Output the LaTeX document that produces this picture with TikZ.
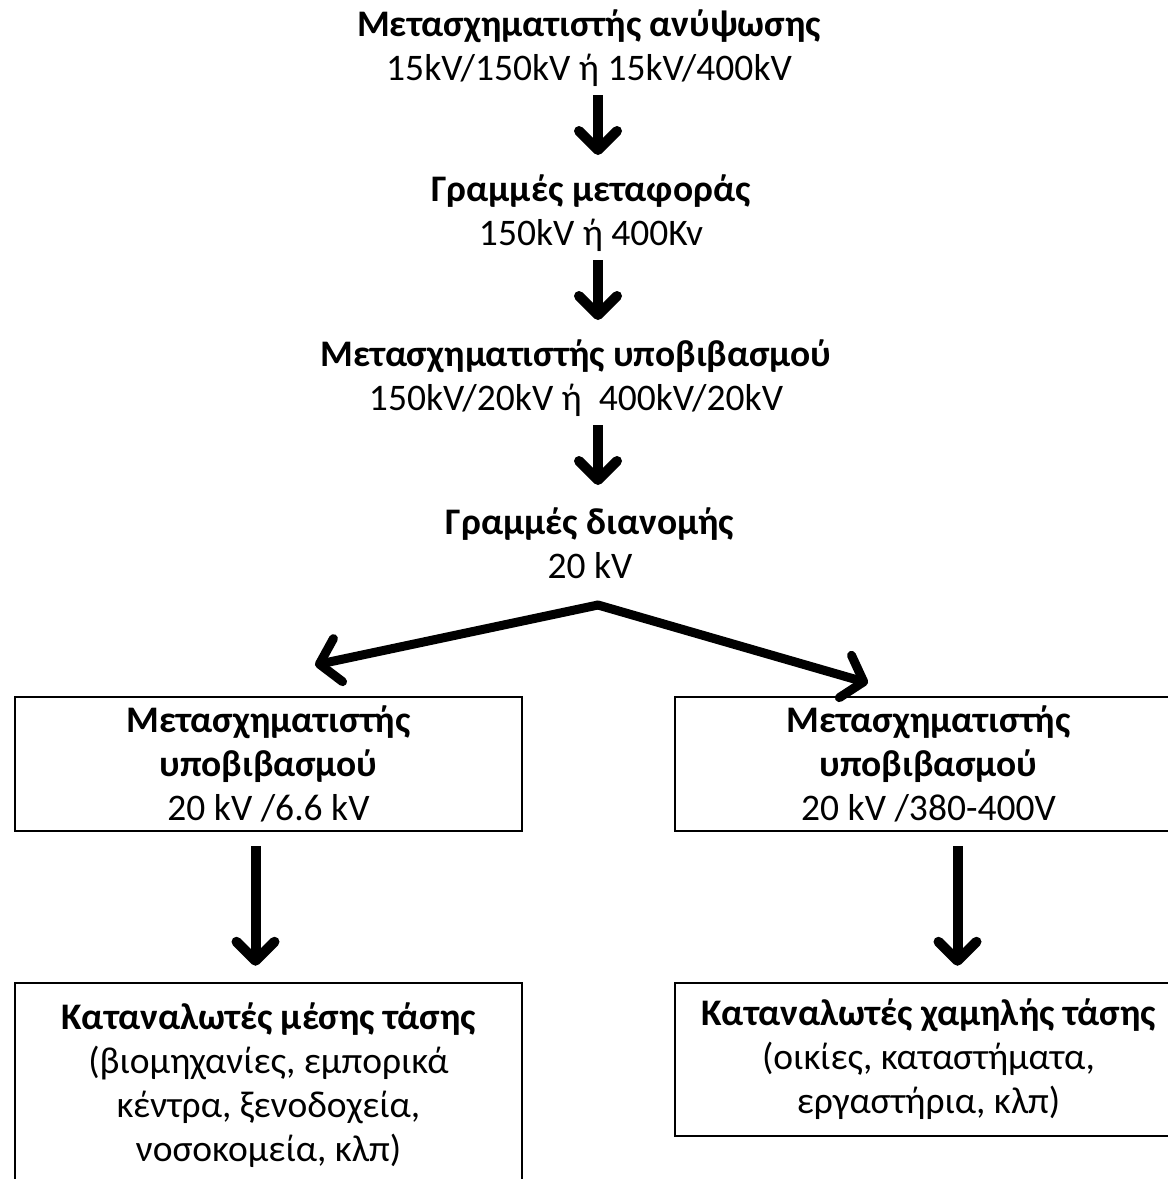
\documentclass[tikz,border=0pt]{standalone}
\usepackage{fontspec}
\setmainfont{Carlito}
\usetikzlibrary{arrows.meta,positioning,calc}

\tikzset{
  lbl/.style={align=center,inner sep=0pt,font=\fontsize{37.5}{44}\selectfont},
  boxnode/.style={lbl,draw,line width=2.5pt,minimum width=507pt},
  bigarrow/.style={line width=10pt,-{Straight Barb[length=19pt,width=38pt,round]}},
  sidearrow/.style={line width=9pt,line cap=round,-{Straight Barb[length=19pt,width=44pt,round]}},
}

\begin{document}
\begin{tikzpicture}[x=1pt,y=-1pt]
  \useasboundingbox (0,0) rectangle (1168,1179);
  \clip (0,0) rectangle (1168,1179);

  % chain from the generator down to the distribution lines
  \node[lbl] (stepup) at (589,48) {\textbf{Μετασχηματιστής ανύψωσης}\\15kV/150kV ή 15kV/400kV};
  \node[lbl] (transm) at (591,213) {\textbf{Γραμμές μεταφοράς}\\150kV ή 400Kv};
  \node[lbl] (stepdown) at (576,378) {\textbf{Μετασχηματιστής υποβιβασμού}\\150kV/20kV ή \ 400kV/20kV};
  \node[lbl] (distr) at (590,543) {\textbf{Γραμμές διανομής}\\20 kV};

  \coordinate (split) at (598,605);
  \coordinate (ltip) at (315,665);
  \coordinate (rtip) at (868,683);

  \draw[bigarrow] (split |- 0,95) -- (split |- 0,155);
  \draw[bigarrow] (split |- 0,260) -- (split |- 0,320);
  \draw[bigarrow] (split |- 0,425) -- (split |- 0,485);

  % the two branches
  \draw[sidearrow] (split) -- (ltip);
  \draw[sidearrow] (split) -- (rtip);

  \node[boxnode,minimum height=134pt] (lmid) at (268.5,764) {\textbf{Μετασχηματιστής}\\\textbf{υποβιβασμού}\\20 kV /6.6 kV};
  \node[boxnode,minimum height=134pt] (rmid) at (928.5,764) {\textbf{Μετασχηματιστής}\\\textbf{υποβιβασμού}\\20 kV /380-400V};

  \node[boxnode,minimum height=204pt] (lcons) at (268.5,1085) {\textbf{Καταναλωτές μέσης τάσης}\\(βιομηχανίες, εμπορικά\\κέντρα, ξενοδοχεία,\\νοσοκομεία, κλπ)};
  \node[boxnode,minimum height=153pt] (rcons) at (928.5,1059.5) {\textbf{Καταναλωτές χαμηλής τάσης}\\(οικίες, καταστήματα,\\εργαστήρια, κλπ)};

  \draw[bigarrow] ([xshift=-13pt,yshift=-14pt]lmid.south) -- ([xshift=-13pt,yshift=16pt]lcons.north);
  \draw[bigarrow] ([xshift=29pt,yshift=-14pt]rmid.south) -- ([xshift=29pt,yshift=16pt]rcons.north);
\end{tikzpicture}
\end{document}
